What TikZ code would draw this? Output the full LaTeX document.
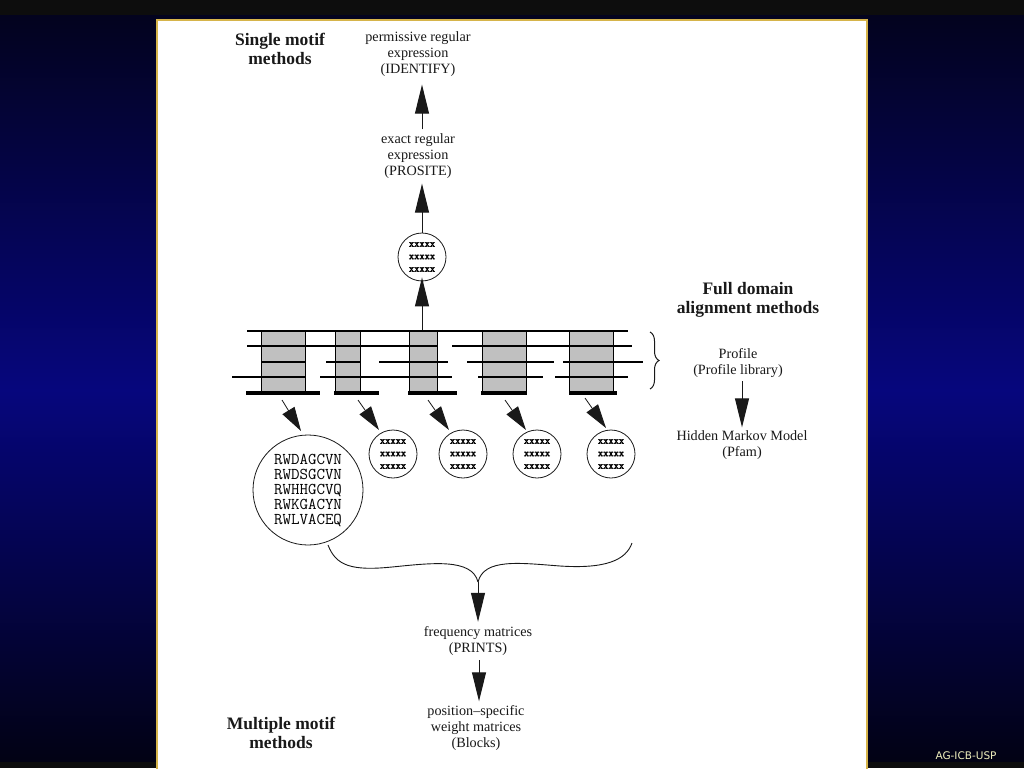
\documentclass[tikz,border=0pt]{standalone}
\usepackage{fontspec}
\setmainfont{Liberation Serif}
\newfontfamily\seqfont{Latin Modern Mono}
\newfontfamily\xfont[FakeBold=2.5]{Latin Modern Mono}
\newfontfamily\agfont{DejaVu Sans}
\usetikzlibrary{arrows.meta,decorations.pathreplacing}
\definecolor{bgA}{RGB}{3,3,30}
\definecolor{bgB}{RGB}{6,6,125}
\definecolor{bgC}{RGB}{2,2,20}
\definecolor{stripc}{RGB}{13,13,13}
\definecolor{framec}{RGB}{214,180,74}
\definecolor{blockc}{RGB}{192,192,192}
\definecolor{inkc}{RGB}{25,25,25}
\definecolor{agc}{RGB}{240,240,190}
\begin{document}
\begin{tikzpicture}[x=1pt,y=-1pt,
  lbl/.style={text=inkc,align=center,inner sep=1pt,font=\fontsize{14.2}{16}\selectfont},
  head/.style={text=inkc,align=center,inner sep=1pt,font=\fontsize{17.5}{18.5}\selectfont\bfseries},
  bigarr/.style={draw=inkc,line width=1pt,-{Triangle[length=29pt,width=14pt]}},
  smallarr/.style={draw=inkc,line width=0.8pt,-{Triangle[length=24pt,width=14pt]}},
  bar/.style={draw=black,line width=2.4pt},
  barb/.style={draw=black,line width=3.4pt},
  blk/.style={fill=blockc,draw=black,line width=0.8pt},
  motif/.style={circle,draw=inkc,line width=0.8pt,minimum size=48pt,inner sep=0pt,align=center,
    font=\xfont\fontsize{10}{12.5}\selectfont},
  bigcirc/.style={circle,draw=inkc,line width=0.8pt,minimum size=110pt,inner sep=0pt,align=left,
    font=\seqfont\fontsize{16.5}{15}\selectfont}
]
\useasboundingbox (0,0) rectangle (1024,768);
% background
\shade[top color=bgA,bottom color=bgB] (0,15) rectangle (1024,390);
\shade[top color=bgB,bottom color=bgC] (0,390) rectangle (1024,762);
\fill[stripc] (0,0) rectangle (1024,15);
\fill[stripc] (0,762) rectangle (1024,768);
% panel
\filldraw[fill=white,draw=framec,line width=2pt] (157,20) rectangle (867,770);

% headings
\node[head] (single) at (280,49) {Single motif\\methods};
\node[head] (full) at (748,300) {Full domain\\alignment methods};
\node[head] (multiple) at (281,733) {Multiple motif\\methods};

% single motif chain
\node[lbl] (ident) at (418,54) {permissive regular\\expression\\(IDENTIFY)};
\node[lbl] (prosite) at (418,156) {exact regular\\expression\\(PROSITE)};
\node[motif] (topc) at (422,257) {xxxxx\\xxxxx\\xxxxx};

% alignment blocks
\draw[blk] (261,331) rectangle (305,393);
\draw[blk] (335,331) rectangle (360,393);
\draw[blk] (409,331) rectangle (437,393);
\draw[blk] (482,331) rectangle (526,393);
\draw[blk] (569,331) rectangle (613,393);
% rows
\draw[bar] (247,331) -- (628,331);
\draw[bar] (247,346) -- (437,346);
\draw[bar] (452,346) -- (632,346);
\draw[bar] (262,362) -- (306,362);
\draw[bar] (326,362) -- (360,362);
\draw[bar] (379,362) -- (448,362);
\draw[bar] (467,362) -- (554,362);
\draw[bar] (563,362) -- (643,362);
\draw[bar] (232,377) -- (306,377);
\draw[bar] (320,377) -- (452,377);
\draw[bar] (478,377) -- (543,377);
\draw[bar] (555,377) -- (628,377);
\draw[barb] (246,393) -- (320,393);
\draw[barb] (334,393) -- (379,393);
\draw[barb] (408,393) -- (457,393);
\draw[barb] (481,393) -- (527,393);
\draw[barb] (569,393) -- (617,393);

\coordinate (alntop) at (422,330);
\draw[bigarr,shorten >=-4pt] (alntop) -- (topc.south);
\draw[bigarr,shorten >=4pt] (topc.north) -- (topc.north |- prosite.south);
\draw[bigarr,shorten >=7pt,shorten <=3pt] (prosite.north -| topc) -- (ident.south -| topc);

% brace and profile
\coordinate (bracetop) at (650,332);
\coordinate (bracebot) at (650,389);
\draw[inkc,line width=1pt,decorate,decoration={brace,amplitude=9pt}] (bracetop) -- (bracebot);
\node[lbl] (profile) at (738,363.5) {Profile\\(Profile library)};
\node[lbl] (hmm) at (742,445) {Hidden Markov Model\\(Pfam)};
\draw[bigarr,shorten >=2pt,shorten <=2pt] (profile.south -| hmm) -- (hmm.north);

% circles below
\node[bigcirc] (bigc) at (308,490) {RWDAGCVN\\RWDSGCVN\\RWHHGCVQ\\RWKGACYN\\RWLVACEQ};
\node[motif] (m1) at (393,454) {xxxxx\\xxxxx\\xxxxx};
\node[motif] (m2) at (463,454) {xxxxx\\xxxxx\\xxxxx};
\node[motif] (m3) at (537,454) {xxxxx\\xxxxx\\xxxxx};
\node[motif] (m4) at (611,454) {xxxxx\\xxxxx\\xxxxx};

\coordinate (s0) at (282,400); \coordinate (t0) at (301,431);
\coordinate (s1) at (358,400); \coordinate (t1) at (379,430);
\coordinate (s2) at (428,400); \coordinate (t2) at (449,430);
\coordinate (s3) at (505,400); \coordinate (t3) at (526,430);
\coordinate (s4) at (585,398); \coordinate (t4) at (606,428);
\draw[smallarr] (s0) -- (t0);
\draw[smallarr] (s1) -- (t1);
\draw[smallarr] (s2) -- (t2);
\draw[smallarr] (s3) -- (t3);
\draw[smallarr] (s4) -- (t4);

% wavy brace
\coordinate (wl) at (328,545);
\coordinate (wr) at (632,543);
\coordinate (wc) at (478,582);
\draw[inkc,line width=0.9pt] (wl) .. controls (336,566) and (352,571) .. (392,567)
  .. controls (432,563) and (472,558) .. (wc);
\draw[inkc,line width=0.9pt] (wc) .. controls (484,558) and (520,563) .. (560,566)
  .. controls (606,569) and (626,560) .. (wr);

\node[lbl] (freq) at (478,641.5) {frequency matrices\\(PRINTS)};
\node[lbl] (pos) at (476,728) {position--specific\\weight matrices\\(Blocks)};
\draw[bigarr,shorten >=4pt] (wc) -- (freq.north);
\draw[bigarr,shorten <=3pt,shorten >=3pt] (freq.south -| 479,0) -- (pos.north -| 479,0);

\node[text=agc,font=\agfont\fontsize{10.5}{12}\selectfont,inner sep=0pt] (ag) at (966,756) {AG-ICB-USP};
\end{tikzpicture}
\end{document}
